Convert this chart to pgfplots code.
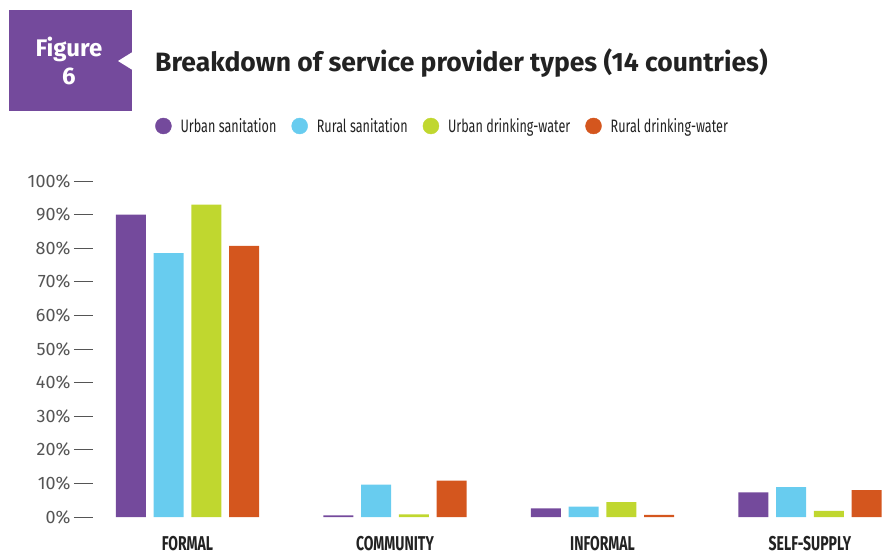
\documentclass[border=0pt]{standalone}
\usepackage{pgfplots}
\usepackage{pgfplotstable}
\pgfplotsset{compat=1.18}
\usepackage{fontspec}
\setmainfont{Fira Sans}
\newfontfamily\condfont[FakeStretch=0.70]{Fira Sans}

\definecolor{upurple}{HTML}{744A9C}
\definecolor{rblue}{HTML}{68CCEF}
\definecolor{ugreen}{HTML}{C0D72F}
\definecolor{rorange}{HTML}{D4561E}
\definecolor{txt}{HTML}{222222}
\definecolor{ticktxt}{HTML}{555555}

% share of service providers by type (%)
\pgfplotstableread{
x us rs ud rd
0 90.0 78.5 93.0 80.7
1 0.5 9.6 0.8 10.8
2 2.6 3.1 4.4 0.6
3 7.3 8.9 1.8 8.0
}\data

\begin{document}
\begin{tikzpicture}
\path[use as bounding box] (0pt,0pt) rectangle (882pt,557pt);

% figure badge and title
\fill[upurple] (9pt,446pt) rectangle (132pt,547pt);
\fill[white] (132.5pt,505pt) -- (118pt,496pt) -- (132.5pt,487pt) -- cycle;
\node[anchor=base, text=white, font=\bfseries\fontsize{24}{26}\selectfont] at (69pt,500pt) {Figure};
\node[anchor=base, text=white, font=\bfseries\fontsize{24}{26}\selectfont] at (69pt,472pt) {6};
\node[anchor=base west, inner sep=0pt, text=txt, font=\bfseries\fontsize{26.5}{28}\selectfont] at (155pt,485pt) {Breakdown of service provider types (14 countries)};

\begin{axis}[
 at={(93pt,40pt)}, anchor=south west,
 scale only axis, width=789pt, height=336pt,
 bar width=30pt,
 xmin=-0.4554, xmax=3.347, ymin=0, ymax=100,
 xtick={0,1,2,3},
 xticklabels={FORMAL,COMMUNITY,INFORMAL,SELF-SUPPLY},
 ytick={0,10,...,100},
 yticklabel={\pgfmathprintnumber{\tick}\%},
 /pgf/number format/assume math mode=true,
 axis line style={draw=none},
 xtick pos=bottom, ytick pos=left,
 tick align=outside,
 major tick length=19pt,
 ytick style={draw=ticktxt, line width=0.9pt},
 xtick style={draw=none},
 yticklabel style={font=\fontsize{18}{20}\selectfont, text=ticktxt},
 xticklabel style={font=\condfont\bfseries\fontsize{20}{22}\selectfont, text=txt, yshift=3pt},
 clip=false,
 legend columns=4,
 legend style={at={(axis description cs:0.0786,1.1637)}, anchor=west,
   draw=none, fill=none, inner sep=0pt,
   font=\condfont\fontsize{18}{20}\selectfont, text=txt,
   /tikz/every even column/.append style={column sep=13pt}},
]
\addplot[ybar, bar shift=-56.55pt, fill=upurple, draw=none, forget plot] table[x=x, y=us] {\data};
\addplot[ybar, bar shift=-18.85pt, fill=rblue, draw=none, forget plot] table[x=x, y=rs] {\data};
\addplot[ybar, bar shift=18.85pt, fill=ugreen, draw=none, forget plot] table[x=x, y=ud] {\data};
\addplot[ybar, bar shift=56.55pt, fill=rorange, draw=none, forget plot] table[x=x, y=rd] {\data};

\addlegendimage{legend image code/.code={\fill[upurple] (8pt,0pt) circle (8pt); \path (0pt,0pt) (23pt,0pt);}}
\addlegendentry{Urban sanitation}
\addlegendimage{legend image code/.code={\fill[rblue] (8pt,0pt) circle (8pt); \path (0pt,0pt) (23pt,0pt);}}
\addlegendentry{Rural sanitation}
\addlegendimage{legend image code/.code={\fill[ugreen] (8pt,0pt) circle (8pt); \path (0pt,0pt) (23pt,0pt);}}
\addlegendentry{Urban drinking-water}
\addlegendimage{legend image code/.code={\fill[rorange] (8pt,0pt) circle (8pt); \path (0pt,0pt) (23pt,0pt);}}
\addlegendentry{Rural drinking-water}
\end{axis}
\end{tikzpicture}
\end{document}
